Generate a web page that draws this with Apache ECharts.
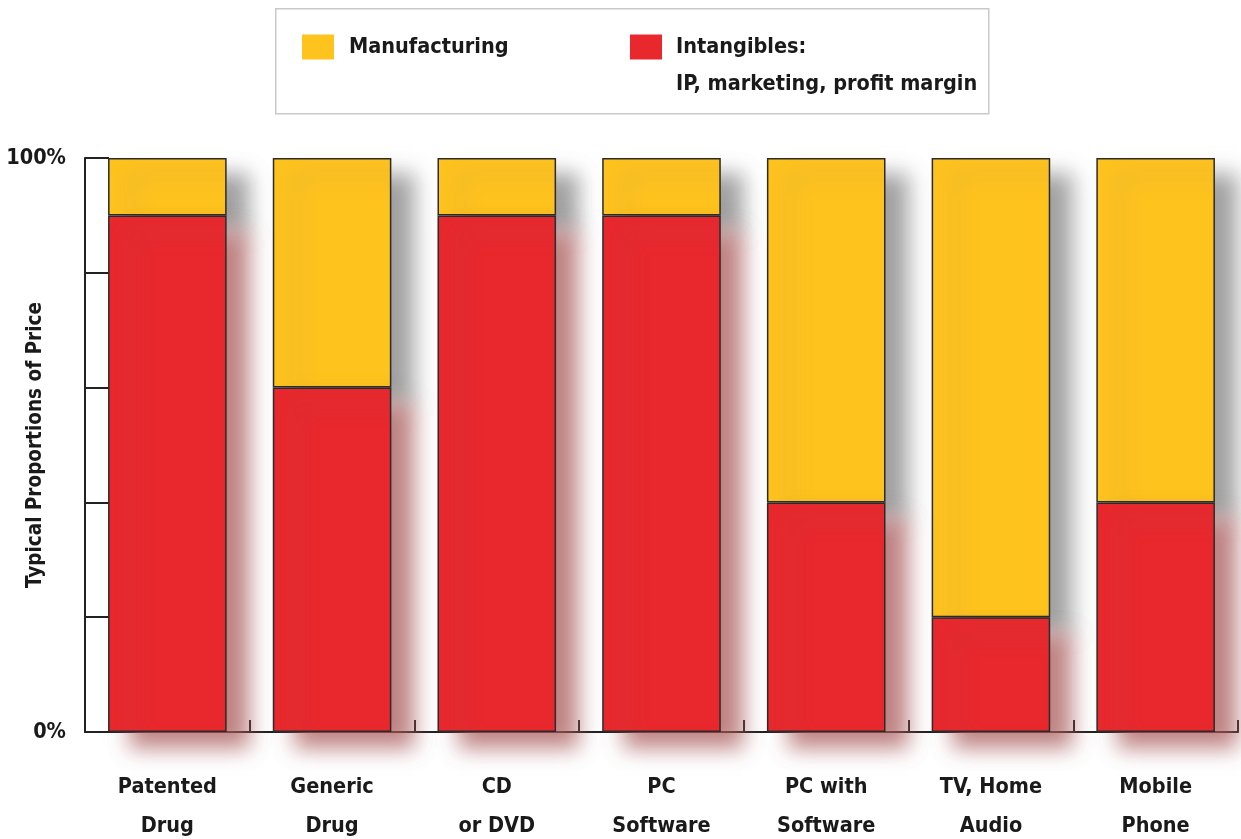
<!DOCTYPE html>
<html>
<head>
<meta charset="utf-8">
<script src="https://cdn.jsdelivr.net/npm/echarts@6/dist/echarts.min.js"></script>
<style>
html,body{margin:0;padding:0;background:#fff;}
#chart{width:1241px;height:839px;}
</style>
</head>
<body>
<div id="chart"></div>
<script>
const categories = ['Patented\nDrug', 'Generic\nDrug', 'CD\nor DVD', 'PC\nSoftware', 'PC with\nSoftware', 'TV, Home\nAudio', 'Mobile\nPhone'];
const intangibles = [90, 60, 90, 90, 40, 20, 40];
const manufacturing = [10, 40, 10, 10, 60, 80, 60];
const yTickLabels = ['0%', '', '', '', '', '100%'];
const seriesNames = ['Manufacturing', 'Intangibles:\nIP, marketing, profit margin'];
const yAxisTitle = 'Typical Proportions of Price';

const FONT = "'DejaVu Sans Condensed', 'Liberation Sans Narrow', sans-serif";
const TXT = '#1a1a1a';
const YELLOW = '#FFC31E';
const RED = '#E8282D';
const FS = 21.5;

const chart = echarts.init(document.getElementById('chart'), null, {renderer: 'canvas'});
const legendIconStyle = {borderWidth: 0, shadowBlur: 0, shadowOffsetX: 0, shadowOffsetY: 0, shadowColor: 'rgba(0,0,0,0)'};
chart.setOption({
  backgroundColor: '#ffffff',
  animation: false,
  graphic: [{
    type: 'rect', left: 275, top: 8, z: -1,
    shape: {width: 713, height: 105},
    style: {fill: '#ffffff', stroke: '#c9c9cd', lineWidth: 1.5}
  }],
  legend: [{
    data: [seriesNames[0]],
    left: 302, top: 28.5, padding: 0,
    itemWidth: 32, itemHeight: 25, icon: 'rect',
    selectedMode: false,
    itemStyle: legendIconStyle,
    textStyle: {fontFamily: FONT, fontWeight: 'bold', fontSize: FS, color: TXT, lineHeight: 37, padding: [0, 0, 0, 10]}
  }, {
    data: [seriesNames[1]],
    left: 630, top: -8.5, padding: 0,
    itemWidth: 32, itemHeight: 25, icon: 'rect',
    selectedMode: false,
    itemStyle: legendIconStyle,
    formatter: function (n) { return '\n' + n; },
    textStyle: {fontFamily: FONT, fontWeight: 'bold', fontSize: FS, color: TXT, lineHeight: 37, padding: [0, 0, 0, 9]}
  }],
  grid: {left: 85, right: 3, top: 158, bottom: 107, containLabel: false, outerBoundsMode: 'none'},
  xAxis: {
    type: 'category',
    data: categories,
    axisLine: {lineStyle: {color: '#222', width: 2}},
    axisTick: {show: true, inside: true, length: 12, lineStyle: {color: '#222', width: 2}},
    axisLabel: {margin: 36, fontFamily: FONT, fontWeight: 'bold', fontSize: FS, color: TXT, lineHeight: 39, interval: 0}
  },
  yAxis: {
    type: 'value', min: 0, max: 100, interval: 20,
    name: yAxisTitle, nameLocation: 'middle', nameGap: 39, nameRotate: 90, nameMoveOverlap: false,
    nameTextStyle: {fontFamily: FONT, fontWeight: 'bold', fontSize: 20.5, color: TXT},
    axisLine: {show: true, lineStyle: {color: '#222', width: 2}},
    axisTick: {show: true, inside: true, length: 24, lineStyle: {color: '#222', width: 2}},
    splitLine: {show: false},
    axisLabel: {
      margin: 19, fontFamily: FONT, fontWeight: 'bold', fontSize: FS, color: TXT,
      formatter: function (v) { return yTickLabels[Math.round(v / 20)] || ''; }
    }
  },
  series: [{
    name: seriesNames[1],
    type: 'bar', stack: 'total', barWidth: '72%', z: 3,
    data: intangibles,
    itemStyle: {color: RED, borderColor: '#2b2b2b', borderWidth: 1.5,
      shadowColor: 'rgba(170,90,90,0.75)', shadowBlur: 20, shadowOffsetX: 22, shadowOffsetY: 16}
  }, {
    name: seriesNames[0],
    type: 'bar', stack: 'total', barWidth: '72%', z: 2,
    data: manufacturing,
    itemStyle: {color: YELLOW, borderColor: '#2b2b2b', borderWidth: 1.5,
      shadowColor: 'rgba(130,130,130,0.75)', shadowBlur: 20, shadowOffsetX: 22, shadowOffsetY: 16}
  }]
});
</script>
</body>
</html>
